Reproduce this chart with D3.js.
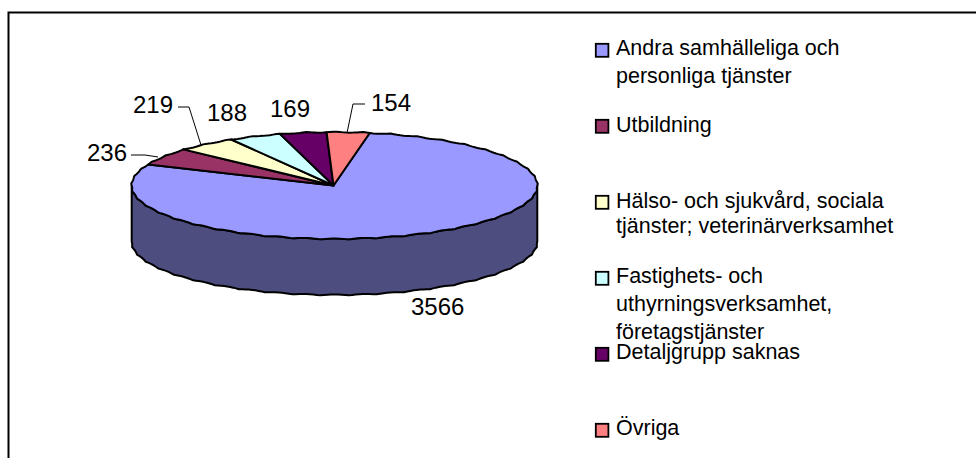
<!DOCTYPE html>
<html><head><meta charset="utf-8">
<script src="https://cdnjs.cloudflare.com/ajax/libs/d3/7.8.5/d3.min.js"></script>
<style>html,body{margin:0;padding:0;background:#fff}svg{display:block}text{font-family:"Liberation Sans",Arial,sans-serif;fill:#000}</style>
</head><body><svg id="c" width="976" height="458"></svg>
<script>
const categories=["Andra samhälleliga och|personliga tjänster","Utbildning","Hälso- och sjukvård, sociala|tjänster; veterinärverksamhet","Fastighets- och|uthyrningsverksamhet,|företagstjänster","Detaljgrupp saknas","Övriga"];
const values=[3566,236,219,188,169,154];
const colors=["#9999ff","#993366","#ffffcc","#ccffff","#660066","#ff8080"];
const legendTop=[43,119,195,271,347,423];
const legendBaselines=[[55,83],[132],[208,233],[283,311,339],[359],[435]];
const labelPos=[[411,315],[87,161],[133,113],[207,121],[270,117],[371,111]];
const leaders=[[],[[131,155],[145,155],[158,157]],[[178,107],[189,107],[201,145]],[],[],[[365,104],[353,104],[347,133]]];
const svg=d3.select("#c");
svg.append("rect").attr("x",8.5).attr("y",12.5).attr("width",1000).attr("height",500).attr("fill","#fff").attr("stroke","#000").attr("stroke-width",2);
const cx=334.5,cy=185.5,rx=203.5,ry=54,depth=56;
const start=10*Math.PI/180, deg=Math.PI/180;
const pie=d3.pie().sort(null).startAngle(start).endAngle(start+2*Math.PI);
const arcs=pie(values);
const line=d3.line();
// scalloped rim, as the low-resolution original outline looks
const dent=a=>1.0*Math.abs(Math.sin(Math.PI*a/(8*deg)));
const pt=a=>[cx+rx*Math.sin(a)-dent(a)*Math.sin(a), cy-ry*Math.cos(a)+dent(a)*Math.cos(a)];
function rim(a0,a1){const n=Math.max(2,Math.ceil((a1-a0)/deg));return d3.range(n+1).map(i=>pt(a0+(a1-a0)*i/n))}
const dark=c=>{const k=d3.rgb(c);return d3.rgb(k.r/2,k.g/2,k.b/2).formatHex()};
const front=rim(Math.PI/2,3*Math.PI/2);
svg.append("path").attr("d",line(front.concat(front.slice().reverse().map(p=>[p[0],p[1]+depth])))+"Z").attr("fill",dark(colors[0])).attr("stroke","#000").attr("stroke-width",2).attr("stroke-linejoin","round");
svg.selectAll("path.s").data(arcs).join("path").attr("class","s")
 .attr("d",d=>line([[cx-1,cy],...rim(d.startAngle,d.endAngle)])+"Z")
 .attr("fill",(d,i)=>colors[i]).attr("stroke","#000").attr("stroke-width",2).attr("stroke-linejoin","round");
leaders.forEach(l=>{if(l.length)svg.append("path").attr("d",line(l)).attr("fill","none").attr("stroke","#000").attr("stroke-width",1)});
svg.selectAll("text.v").data(values).join("text").attr("class","v").attr("x",(d,i)=>labelPos[i][0]).attr("y",(d,i)=>labelPos[i][1]).attr("font-size",24).text(d=>d);
categories.forEach((c,i)=>{
 svg.append("rect").attr("x",595.8).attr("y",legendTop[i]+.8).attr("width",12.6).attr("height",13).attr("fill",colors[i]).attr("stroke","#000").attr("stroke-width",1.8);
 c.split("|").forEach((t,j)=>svg.append("text").attr("x",616).attr("y",legendBaselines[i][j]).attr("font-size",21.5).text(t));
});
</script></body></html>
